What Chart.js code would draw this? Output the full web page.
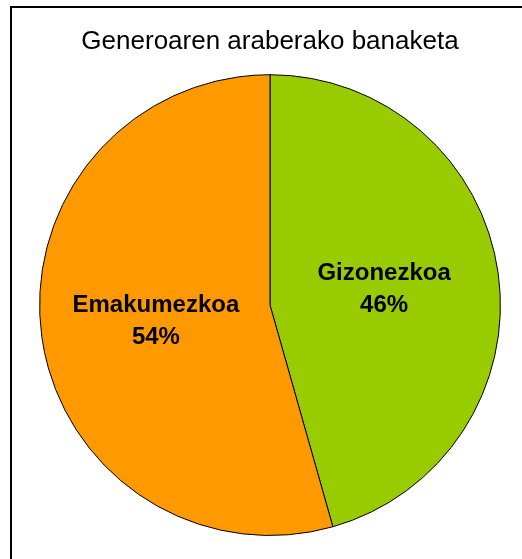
<!DOCTYPE html>
<html>
<head>
<meta charset="utf-8">
<script src="https://cdn.jsdelivr.net/npm/chart.js@4/dist/chart.umd.min.js"></script>
<style>
  html, body { margin: 0; padding: 0; background: #fff; }
  .frame { position: absolute; left: 10px; top: 6px; width: 600px; height: 600px;
           border-left: 2px solid #000; border-top: 2px solid #000; }
  .wrap { position: absolute; left: 0; top: 0; width: 522px; height: 559px; }
</style>
</head>
<body>
<div class="frame"></div>
<div class="wrap"><canvas id="pieChart" width="522" height="559"></canvas></div>
<script>
const TITLE = 'Generoaren araberako banaketa';
const LABELS = ['Gizonezkoa', 'Emakumezkoa'];
const VALUES = [45.6, 54.4];
const COLORS = ['#99CC00', '#FF9900'];

const FONT = '"Liberation Sans", Arial, sans-serif';

// etiketak xerren erdian
const sliceLabels = {
  id: 'sliceLabels',
  afterDatasetsDraw(chart) {
    const ctx = chart.ctx;
    const meta = chart.getDatasetMeta(0);
    const total = VALUES.reduce((a, b) => a + b, 0);
    ctx.save();
    ctx.fillStyle = '#000';
    ctx.font = 'bold 24px ' + FONT;
    ctx.textAlign = 'center';
    ctx.textBaseline = 'middle';
    meta.data.forEach((arc, i) => {
      const p = arc.getCenterPoint();
      const pct = Math.round(VALUES[i] / total * 100) + '%';
      ctx.fillText(LABELS[i], p.x, p.y - 16);
      ctx.fillText(pct, p.x, p.y + 16);
    });
    ctx.restore();
  }
};

new Chart(document.getElementById('pieChart').getContext('2d'), {
  type: 'pie',
  data: {
    labels: LABELS,
    datasets: [{
      data: VALUES,
      backgroundColor: COLORS,
      borderColor: '#000',
      borderWidth: 1,
    }],
  },
  options: {
    responsive: false,
    animation: false,
    layout: { padding: { left: 39, right: 21, top: 0, bottom: 23 } },
    plugins: {
      legend: { display: false },
      tooltip: { enabled: false },
      title: {
        display: true,
        text: TITLE,
        color: '#000',
        font: { family: FONT, size: 26, weight: 'normal' },
        padding: { top: 26, bottom: 17 },
      },
    },
  },
  plugins: [sliceLabels],
});
</script>
</body>
</html>
